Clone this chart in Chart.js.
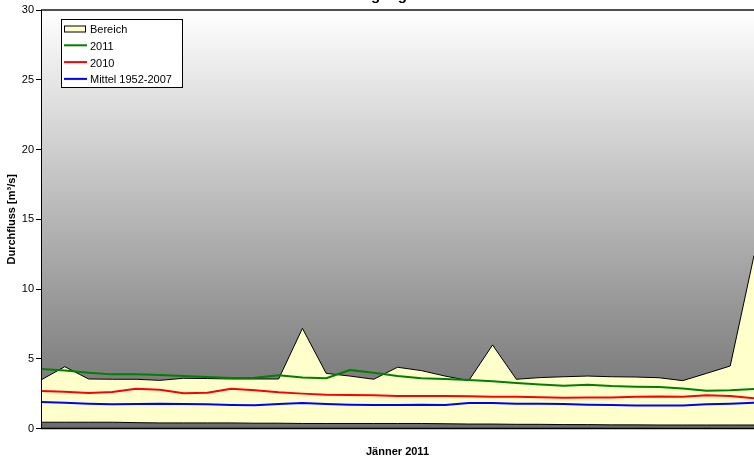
<!DOCTYPE html>
<html>
<head>
<meta charset="utf-8">
<script src="https://cdn.jsdelivr.net/npm/chart.js@4/dist/chart.umd.min.js"></script>
<style>
  html, body { margin: 0; padding: 0; background: #ffffff; }
  #wrap { width: 754px; height: 470px; position: relative; }
</style>
</head>
<body>
<div id="wrap"><canvas id="c" width="754" height="470"></canvas></div>
<script>
// Tage im Jänner 2011
const days = ['1','2','3','4','5','6','7','8','9','10','11','12','13','14','15','16',
              '17','18','19','20','21','22','23','24','25','26','27','28','29','30','31'];

// Bereich 1952-2007: Tageshöchst- und Tagestiefstwerte [m³/s]
const rangeMax = [3.48,4.43,3.55,3.53,3.53,3.45,3.6,3.58,3.55,3.55,3.55,7.18,3.95,3.76,3.53,4.39,
                  4.15,3.76,3.43,5.99,3.53,3.65,3.71,3.76,3.71,3.69,3.64,3.43,3.95,4.48,12.4];
const rangeMin = [0.45,0.45,0.45,0.45,0.42,0.4,0.4,0.4,0.4,0.38,0.38,0.36,0.36,0.36,0.36,0.36,
                  0.36,0.34,0.32,0.32,0.3,0.3,0.28,0.28,0.26,0.26,0.25,0.25,0.25,0.25,0.25];

// Tagesmittel 2011, 2010 und langjähriges Mittel 1952-2007 [m³/s]
const flow2011 = [4.27,4.15,4.0,3.88,3.88,3.83,3.76,3.69,3.62,3.64,3.82,3.65,3.6,4.19,4.0,3.76,
                  3.6,3.55,3.48,3.38,3.26,3.15,3.07,3.14,3.05,3.0,2.97,2.86,2.71,2.74,2.83];
const flow2010 = [2.69,2.64,2.54,2.62,2.85,2.78,2.52,2.57,2.85,2.74,2.59,2.5,2.42,2.4,2.38,2.33,
                  2.33,2.33,2.31,2.28,2.28,2.24,2.21,2.23,2.23,2.28,2.3,2.28,2.38,2.33,2.16];
const meanFlow = [1.9,1.85,1.78,1.73,1.76,1.78,1.76,1.73,1.69,1.66,1.76,1.83,1.76,1.71,1.69,1.69,
                  1.71,1.69,1.83,1.83,1.78,1.78,1.76,1.71,1.69,1.64,1.64,1.64,1.73,1.78,1.85];

// y-Achse
const yTicks = [0, 5, 10, 15, 20, 25, 30];

const chartTitle = 'Durchflussganglinie';
const xTitle = 'Jänner 2011';
const yTitle = 'Durchfluss [m³/s]';

const FONT = 'Arial, "Liberation Sans", sans-serif';

// Hintergrund der Zeichenfläche: Verlauf von weiß nach grau
const plotBackground = {
  id: 'plotBackground',
  beforeDatasetsDraw(chart) {
    const { ctx, chartArea: a } = chart;
    const g = ctx.createLinearGradient(0, a.top, 0, a.bottom);
    g.addColorStop(0, '#ffffff');
    g.addColorStop(1, '#6c6c6c');
    ctx.save();
    ctx.fillStyle = g;
    ctx.fillRect(a.left, a.top, a.right - a.left, a.bottom - a.top);
    ctx.restore();
  }
};

// Rahmen der Zeichenfläche
const plotFrame = {
  id: 'plotFrame',
  afterDatasetsDraw(chart) {
    const { ctx, chartArea: a } = chart;
    ctx.save();
    ctx.strokeStyle = '#505050';
    ctx.lineWidth = 2;
    ctx.beginPath();
    ctx.moveTo(a.left, a.top);
    ctx.lineTo(a.right, a.top);
    ctx.stroke();
    ctx.strokeStyle = '#000000';
    ctx.lineWidth = 1;
    ctx.beginPath();
    ctx.moveTo(a.left + 0.5, a.top);
    ctx.lineTo(a.left + 0.5, a.bottom);
    ctx.stroke();
    ctx.lineWidth = 1.5;
    ctx.beginPath();
    ctx.moveTo(a.left, a.bottom);
    ctx.lineTo(a.right, a.bottom);
    ctx.stroke();
    ctx.restore();
  }
};

// Diagrammtitel (am oberen Rand)
const topTitle = {
  id: 'topTitle',
  afterDraw(chart) {
    const { ctx } = chart;
    ctx.save();
    ctx.font = 'bold 15px ' + FONT;
    ctx.fillStyle = '#000000';
    ctx.textBaseline = 'alphabetic';
    ctx.textAlign = 'left';
    const prefix = ctx.measureText('Durchfluss').width;
    ctx.fillText(chartTitle, 371 - prefix, -0.5);
    ctx.restore();
  }
};

// Legende im Diagramm
const boxLegend = {
  id: 'boxLegend',
  afterDraw(chart) {
    const { ctx } = chart;
    const items = [
      { label: 'Bereich', type: 'box', fill: '#ffffcc' },
      { label: '2011', type: 'line', color: '#008000' },
      { label: '2010', type: 'line', color: '#ff0000' },
      { label: 'Mittel 1952-2007', type: 'line', color: '#0000ff' }
    ];
    const x0 = 61.5, y0 = 19.5, w = 121, h = 68;
    ctx.save();
    ctx.fillStyle = '#ffffff';
    ctx.fillRect(x0, y0, w, h);
    ctx.strokeStyle = '#000000';
    ctx.lineWidth = 1;
    ctx.strokeRect(x0, y0, w, h);
    ctx.font = '11px ' + FONT;
    ctx.textBaseline = 'middle';
    ctx.textAlign = 'left';
    items.forEach((it, i) => {
      const cy = 29.5 + i * 16.8;
      if (it.type === 'box') {
        ctx.fillStyle = it.fill;
        ctx.fillRect(64.5, cy - 3.5, 21, 6);
        ctx.strokeStyle = '#000000';
        ctx.lineWidth = 1;
        ctx.strokeRect(64.5, cy - 3.5, 21, 6);
      } else {
        ctx.strokeStyle = it.color;
        ctx.lineWidth = 2;
        ctx.beginPath();
        ctx.moveTo(64, cy - 1);
        ctx.lineTo(87, cy - 1);
        ctx.stroke();
      }
      ctx.fillStyle = '#000000';
      ctx.fillText(it.label, 90, cy + 0.5);
    });
    ctx.restore();
  }
};

new Chart(document.getElementById('c'), {
  type: 'line',
  data: {
    labels: days,
    datasets: [
      { label: 'Bereich', data: rangeMax, borderColor: '#000000', borderWidth: 1,
        backgroundColor: '#ffffcc', fill: '+1', order: 10 },
      { label: 'Bereich min', data: rangeMin, borderColor: '#000000', borderWidth: 1,
        fill: false, order: 9 },
      { label: '2011', data: flow2011, borderColor: '#008000', borderWidth: 2, fill: false, order: 3 },
      { label: '2010', data: flow2010, borderColor: '#ff0000', borderWidth: 2, fill: false, order: 2 },
      { label: 'Mittel 1952-2007', data: meanFlow, borderColor: '#0000ff', borderWidth: 2, fill: false, order: 1 }
    ]
  },
  options: {
    responsive: false,
    animation: false,
    devicePixelRatio: 1,
    layout: { padding: { top: 10, right: 0, bottom: 0, left: 0 } },
    elements: {
      point: { radius: 0, hoverRadius: 0 },
      line: { tension: 0, borderJoinStyle: 'round' }
    },
    plugins: {
      legend: { display: false },
      title: { display: false },
      tooltip: { enabled: false }
    },
    scales: {
      x: {
        type: 'category',
        offset: false,
        grid: { display: false },
        border: { display: false },
        ticks: { display: false },
        title: {
          display: true, text: xTitle, color: '#000000',
          font: { family: FONT, size: 11, weight: 'bold' },
          padding: { top: 0, bottom: 11 }
        },
        afterFit(s) { s.height = 41.5; }
      },
      y: {
        min: 0, max: 30,
        afterBuildTicks(s) { s.ticks = yTicks.map(v => ({ value: v })); },
        grid: { display: true, drawOnChartArea: false, drawTicks: true, tickLength: 5,
                tickColor: '#000000', color: '#000000' },
        border: { display: false },
        ticks: { color: '#000000', padding: 2, font: { family: FONT, size: 11 } },
        title: {
          display: true, text: yTitle, color: '#000000',
          font: { family: FONT, size: 11, weight: 'bold' },
          padding: { top: 5, bottom: 0 }
        },
        afterFit(s) { s.width = 41; }
      }
    }
  },
  plugins: [plotBackground, plotFrame, topTitle, boxLegend]
});
</script>
</body>
</html>
